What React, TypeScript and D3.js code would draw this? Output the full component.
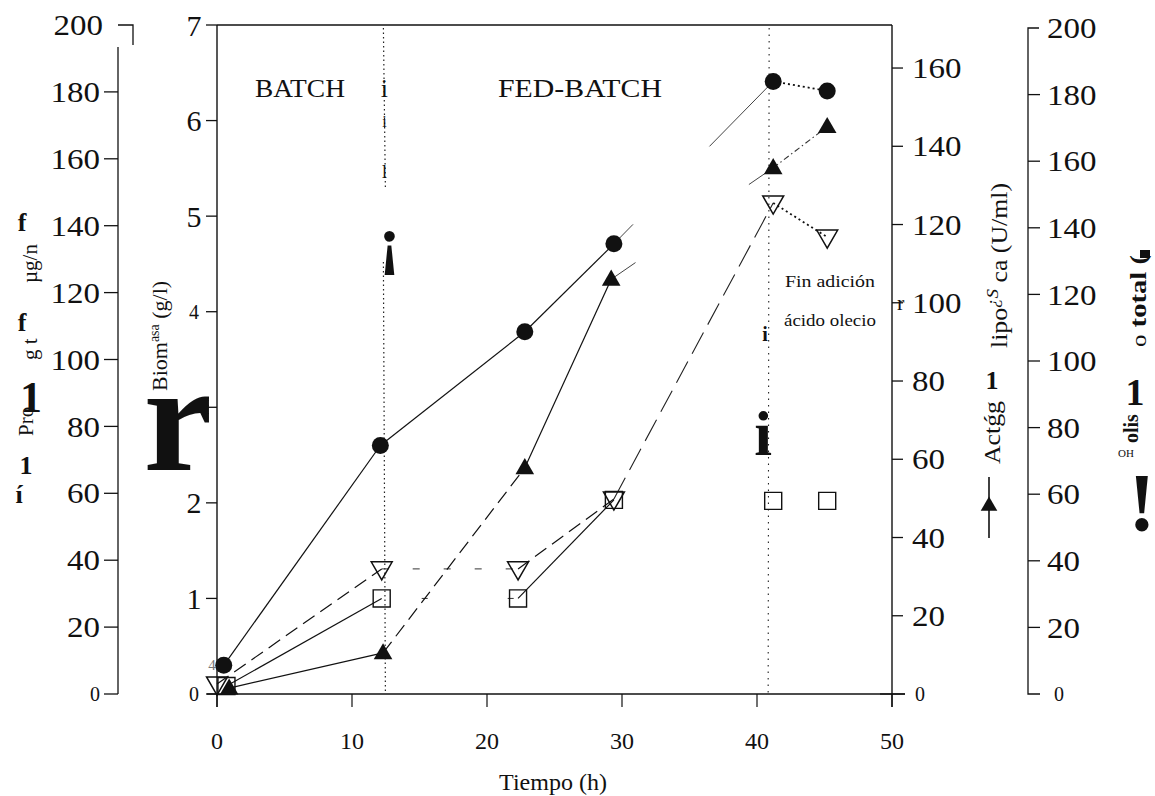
import React from 'react';
import * as d3 from 'd3';

// ---- Data ----
const tiempoBiomasa = [0.5, 12.1, 22.8, 29.4, 41.2, 45.2];
const biomasa = [0.3, 2.6, 3.79, 4.71, 6.41, 6.31];
const estiloBiomasa = ['solid', 'solid', 'solid', 'ends', 'dot'];

const tiempoLipasa = [0.9, 12.3, 22.8, 29.2, 41.2, 45.2];
const actividadLipolitica = [1.5, 10.5, 57.8, 106, 134.5, 145];
const estiloLipasa = ['solid', 'dash', 'solid', 'endsShort', 'dashdot'];

const tiempoProteina = [0, 12.2, 22.3, 29.4, 41.2, 45.2];
const proteina = [3, 37.4, 37.4, 58.3, 146.8, 136.6];
const estiloProteina = ['dash', 'faint', 'dash', 'longdash', 'dot'];

const tiempoOleico = [0.7, 12.2, 22.3, 29.4, 41.2, 45.2];
const oleicoTotal = [2.4, 28.7, 28.7, 58.3, 58, 58];
const estiloOleico = ['solid', 'sparse', 'solid', 'none', 'none'];

const xTicks = [0, 10, 20, 30, 40, 50];
const biomasaTicks = [0, 1, 2, 3, 4, 5, 6, 7];
const biomasaLabels = ['0', '1', '2', '', '4', '5', '6', '7'];
const proteinaTicks = [0, 20, 40, 60, 80, 100, 120, 140, 160, 180, 200];
const lipasaTicks = [0, 20, 40, 60, 80, 100, 120, 140, 160];
const oleicoTicks = [0, 20, 40, 60, 80, 100, 120, 140, 160, 180, 200];
const faseCambio = [12.4, 40.9];

const W = 1155;
const H = 796;
const FONT = "'Liberation Serif', 'Times New Roman', serif";

const x = d3.scaleLinear().domain([0, 50]).range([217, 892]);
const yBio = d3.scaleLinear().domain([0, 7]).range([694, 25]);
const yLip = d3.scaleLinear().domain([0, 171]).range([694, 25]);
const yProt = d3.scaleLinear().domain([0, 200]).range([694, 25]);
const yOle = d3.scaleLinear().domain([0, 200]).range([694, 28]);

type Serie = {
  t: number[];
  v: number[];
  y: d3.ScaleLinear<number, number>;
  estilos: string[];
  marca: string;
};

const series: Serie[] = [
  { t: tiempoOleico, v: oleicoTotal, y: yOle, estilos: estiloOleico, marca: 'square' },
  { t: tiempoProteina, v: proteina, y: yProt, estilos: estiloProteina, marca: 'invtri' },
  { t: tiempoLipasa, v: actividadLipolitica, y: yLip, estilos: estiloLipasa, marca: 'tri' },
  { t: tiempoBiomasa, v: biomasa, y: yBio, estilos: estiloBiomasa, marca: 'circle' },
];

function segmentProps(estilo: string, x1: number, y1: number, x2: number, y2: number) {
  const L = Math.hypot(x2 - x1, y2 - y1);
  switch (estilo) {
    case 'solid':
      return { stroke: '#111', strokeWidth: 1.2 };
    case 'dash':
      return { stroke: '#111', strokeWidth: 1.2, strokeDasharray: '14 7' };
    case 'longdash':
      return { stroke: '#222', strokeWidth: 1.1, strokeDasharray: '24 9' };
    case 'faint':
      return { stroke: '#333', strokeWidth: 1, strokeDasharray: '7 24' };
    case 'sparse':
      return { stroke: '#333', strokeWidth: 1, strokeDasharray: '0 40 6 40' };
    case 'dot':
      return { stroke: '#111', strokeWidth: 1.8, strokeDasharray: '2 3' };
    case 'dashdot':
      return { stroke: '#333', strokeWidth: 1.1, strokeDasharray: '6 3 1.5 3' };
    case 'ends': {
      const a = 0.12 * L;
      const b = 0.4 * L;
      return { stroke: '#444', strokeWidth: 1, strokeDasharray: `${a} ${L - a - b} ${b}` };
    }
    case 'endsShort': {
      const a = 0.15 * L;
      const b = 0.15 * L;
      return { stroke: '#444', strokeWidth: 1, strokeDasharray: `${a} ${L - a - b} ${b}` };
    }
    default:
      return null;
  }
}

const triPath = d3.symbol(d3.symbolTriangle, 150)() as string;
const triSmall = d3.symbol(d3.symbolTriangle, 120)() as string;
const invTriPath = d3.symbol(d3.symbolTriangle, 190)() as string;
const squarePath = d3.symbol(d3.symbolSquare, 290)() as string;

function Marca({ tipo, cx, cy }: { tipo: string; cx: number; cy: number }) {
  if (tipo === 'circle') return <circle cx={cx} cy={cy} r={8.5} fill="#111" />;
  if (tipo === 'tri') return <path d={triPath} transform={`translate(${cx},${cy + 1})`} fill="#111" />;
  if (tipo === 'invtri')
    return (
      <path d={invTriPath} transform={`translate(${cx},${cy - 1}) rotate(180)`} fill="none" stroke="#111" strokeWidth={1.5} />
    );
  return <path d={squarePath} transform={`translate(${cx},${cy})`} fill="none" stroke="#111" strokeWidth={1.4} />;
}

const numW = (t: number) => String(t).length * 16.5;

export default function App() {
  return (
    <svg
      width={W}
      height={H}
      viewBox={`0 0 ${W} ${H}`}
      style={{ position: 'absolute', left: 0, top: 0, background: '#fff' }}
      fontFamily={FONT}
    >
      <rect x={0} y={0} width={W} height={H} fill="#fff" />

      {/* ---------- Left outer axis (protein) ---------- */}
      <g>
        <path d={`M118,${yProt(0)} L118,47`} stroke="#111" strokeWidth={1.3} fill="none" />
        <path d={`M118,${yProt(200)} H133 V45`} stroke="#111" strokeWidth={1.3} fill="none" />
        {proteinaTicks.map((t) => (
          <g key={t}>
            {t !== 200 && <line x1={104} x2={118} y1={yProt(t)} y2={yProt(t)} stroke="#111" strokeWidth={1.3} />}
            <text
              x={t === 200 ? 103 : 100}
              y={yProt(t)}
              dy="0.35em"
              textAnchor="end"
              fontSize={t === 0 ? 20 : 29}
              fill="#111"
              textLength={t === 0 ? undefined : numW(t)}
              lengthAdjust="spacingAndGlyphs"
            >
              {t}
            </text>
          </g>
        ))}
      </g>

      {/* left outer axis label fragments */}
      <g fill="#111">
        <text transform="translate(33,436) rotate(-90)" fontSize={21}>Pro</text>
        <text transform="translate(37,360) rotate(-90)" fontSize={21}>g t</text>
        <text transform="translate(37,283) rotate(-90)" fontSize={21}>µg/n</text>
        <text x={22} y={231} textAnchor="middle" fontSize={26} fontWeight="bold">f</text>
        <text x={22} y={331} textAnchor="middle" fontSize={26} fontWeight="bold">f</text>
        <text x={31} y={412} textAnchor="middle" fontSize={44} fontWeight="bold">1</text>
        <text x={26} y={474} textAnchor="middle" fontSize={26} fontWeight="bold">1</text>
        <text x={19} y={503} textAnchor="middle" fontSize={26} fontWeight="bold">í</text>
      </g>

      {/* ---------- Biomass axis ---------- */}
      <g>
        <line x1={217} x2={217} y1={yBio(7)} y2={707} stroke="#111" strokeWidth={1.4} />
        {biomasaTicks.map((t, i) => (
          <g key={t}>
            <line x1={206} x2={217} y1={yBio(t)} y2={yBio(t)} stroke="#111" strokeWidth={1.3} />
            <text
              x={194}
              y={yBio(t)}
              dy="0.35em"
              textAnchor="middle"
              fontSize={t === 4 ? 20 : t === 0 ? 20 : 30}
              fill="#111"
            >
              {biomasaLabels[i]}
            </text>
          </g>
        ))}
        <text transform="translate(167,391) rotate(-90)" fontSize={22} fill="#111">
          Biom
          <tspan fontSize={14} dy={-8}>asa</tspan>
          <tspan fontSize={22} dy={8}> (g/l)</tspan>
        </text>
        <text x={178} y={470} textAnchor="middle" fontSize={155} fontWeight="bold" fill="#111">r</text>
      </g>

      {/* ---------- Frame top ---------- */}
      <line x1={217} x2={892} y1={25} y2={25} stroke="#111" strokeWidth={1.4} />

      {/* ---------- X axis ---------- */}
      <g>
        <line x1={207} x2={905} y1={694} y2={694} stroke="#111" strokeWidth={1.4} />
        {xTicks.map((t) => (
          <g key={t}>
            <line x1={x(t)} x2={x(t)} y1={694} y2={707} stroke="#111" strokeWidth={1.2} />
            <text x={x(t)} y={741} dy="0.35em" textAnchor="middle" fontSize={24} fill="#111">
              {t}
            </text>
          </g>
        ))}
        <text x={553} y={782} dy="0.35em" textAnchor="middle" fontSize={24} fill="#111">
          Tiempo (h)
        </text>
      </g>

      {/* ---------- Right inner axis (lipase activity) ---------- */}
      <g>
        <line x1={892} x2={892} y1={25} y2={707} stroke="#111" strokeWidth={1.4} />
        {lipasaTicks.map((t) => (
          <g key={t}>
            <line x1={t === 0 ? 880 : 892} x2={t === 0 ? 905 : 903} y1={yLip(t)} y2={yLip(t)} stroke="#111" strokeWidth={1.3} />
            <text
              x={t === 0 ? 915 : 912}
              y={yLip(t)}
              dy="0.35em"
              textAnchor="start"
              fontSize={t === 0 ? 20 : 29}
              fill="#111"
              textLength={t === 0 ? undefined : numW(t)}
              lengthAdjust="spacingAndGlyphs"
            >
              {t}
            </text>
          </g>
        ))}
        <text x={897} y={yLip(100)} dy="0.35em" textAnchor="start" fontSize={22} fill="#111">r</text>
        <text transform="translate(1007,348) rotate(-90)" fontSize={23} fill="#111" textLength={165} lengthAdjust="spacingAndGlyphs">
          lipo
          <tspan fontSize={17} fontStyle="italic" dy={-9}>¿S</tspan>
          <tspan fontSize={23} dy={9}> ca (U/ml)</tspan>
        </text>
        <text x={992} y={389} textAnchor="middle" fontSize={26} fontWeight="bold" fill="#111">1</text>
        <text transform="translate(1000,464) rotate(-90)" fontSize={23} fill="#111" textLength={63} lengthAdjust="spacingAndGlyphs">Actǵg</text>
        <line x1={989} x2={989} y1={477} y2={538} stroke="#111" strokeWidth={1.6} />
        <path d={triSmall} transform="translate(989,506)" fill="#111" />
      </g>

      {/* ---------- Far right axis ---------- */}
      <g>
        <path d={`M1039,${yOle(200)} H1028 V${yOle(0)} H1040`} stroke="#111" strokeWidth={1.3} fill="none" />
        {oleicoTicks.map((t) => (
          <g key={t}>
            {t !== 0 && t !== 200 && (
              <line x1={1028} x2={1040} y1={yOle(t)} y2={yOle(t)} stroke="#111" strokeWidth={1.3} />
            )}
            <text
              x={t === 0 ? 1054 : 1047}
              y={yOle(t)}
              dy="0.35em"
              textAnchor="start"
              fontSize={t === 0 ? 20 : 29}
              fill="#111"
              textLength={t === 0 ? undefined : numW(t)}
              lengthAdjust="spacingAndGlyphs"
            >
              {t}
            </text>
          </g>
        ))}
        <text transform="translate(1146,347) rotate(-90)" fontSize={23} fontWeight="bold" fill="#111" textLength={92} lengthAdjust="spacingAndGlyphs">
          <tspan fontWeight="normal" fontSize={20}>o</tspan> total (
        </text>
        <rect x={1140} y={250} width={10} height={8} fill="#111" />
        <text x={1135} y={405} textAnchor="middle" fontSize={38} fontWeight="bold" fill="#111">1</text>
        <text transform="translate(1138,443) rotate(-90)" fontSize={20} fontWeight="bold" fill="#111">olis</text>
        <text x={1126} y={457} textAnchor="middle" fontSize={11} fill="#111">OH</text>
        <text x={1142} y={530} textAnchor="middle" fontSize={82} fontWeight="bold" fill="#111">!</text>
      </g>

      {/* ---------- Phase change lines ---------- */}
      <g>
        <line x1={x(faseCambio[0]) - 1} x2={x(faseCambio[0]) + 1} y1={28} y2={190} stroke="#222" strokeWidth={1.2} strokeDasharray="1.5 3" />
        <line x1={x(faseCambio[0]) - 1} x2={x(faseCambio[0]) + 1} y1={262} y2={694} stroke="#222" strokeWidth={1.2} strokeDasharray="1.5 3" />
        <line x1={x(faseCambio[1])} x2={x(faseCambio[1]) - 1} y1={28} y2={694} stroke="#222" strokeWidth={1.1} strokeDasharray="1.5 5" />
        <text x={x(faseCambio[0])} y={88} dy="0.35em" textAnchor="middle" fontSize={26} fill="#111">i</text>
        <text x={x(faseCambio[0])} y={121} dy="0.35em" textAnchor="middle" fontSize={16} fill="#111">i</text>
        <text x={x(faseCambio[0])} y={172} dy="0.35em" textAnchor="middle" fontSize={18} fill="#111">l</text>
        <text x={x(faseCambio[0]) + 5} y={262} textAnchor="middle" fontSize={66} fontWeight="bold" fill="#111">¡</text>
        <text x={x(faseCambio[1]) - 4} y={341} textAnchor="middle" fontSize={20} fontWeight="bold" fill="#111">i</text>
        <text x={x(faseCambio[1]) - 6} y={455} textAnchor="middle" fontSize={64} fontWeight="bold" fill="#111">i</text>
      </g>

      {/* ---------- Annotations ---------- */}
      <g fill="#111">
        <text x={300} y={88} dy="0.35em" textAnchor="middle" fontSize={25} textLength={90} lengthAdjust="spacingAndGlyphs">BATCH</text>
        <text x={580} y={88} dy="0.35em" textAnchor="middle" fontSize={25} textLength={164} lengthAdjust="spacingAndGlyphs">FED-BATCH</text>
        <text x={830} y={281} dy="0.35em" textAnchor="middle" fontSize={17} textLength={90} lengthAdjust="spacingAndGlyphs">Fin adición</text>
        <text x={830} y={320} dy="0.35em" textAnchor="middle" fontSize={17} textLength={92} lengthAdjust="spacingAndGlyphs">ácido olecio</text>
        <text x={212} y={665} dy="0.35em" textAnchor="middle" fontSize={15} fill="#777">4</text>
      </g>

      {/* ---------- Series lines ---------- */}
      {series.map((s, si) => (
        <g key={`l${si}`}>
          {s.t.slice(1).map((_, i) => {
            const x1 = x(s.t[i]);
            const y1 = s.y(s.v[i]);
            const x2 = x(s.t[i + 1]);
            const y2 = s.y(s.v[i + 1]);
            const p = segmentProps(s.estilos[i], x1, y1, x2, y2);
            if (!p) return null;
            return <line key={i} x1={x1} y1={y1} x2={x2} y2={y2} fill="none" {...p} />;
          })}
        </g>
      ))}

      {/* ---------- Series markers ---------- */}
      {series.map((s, si) => (
        <g key={`m${si}`}>
          {s.t.map((t, i) => (
            <Marca key={i} tipo={s.marca} cx={x(t)} cy={s.y(s.v[i])} />
          ))}
        </g>
      ))}
    </svg>
  );
}
